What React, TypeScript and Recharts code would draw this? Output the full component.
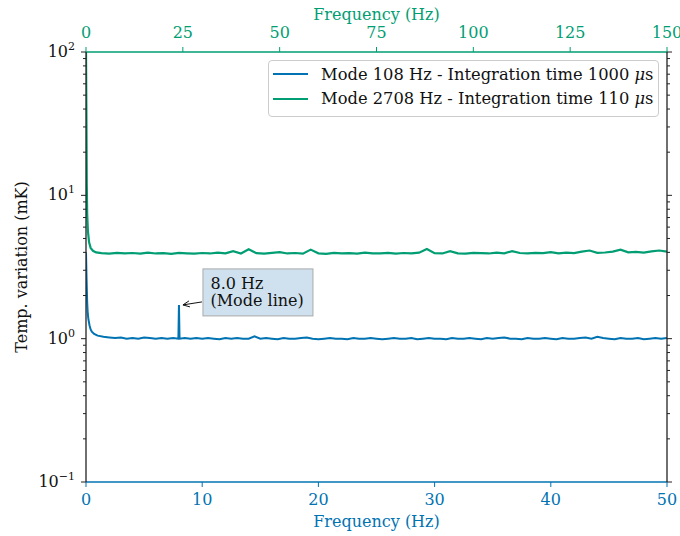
import React from 'react';
import { LineChart, Line, XAxis, YAxis, Legend, ReferenceDot } from 'recharts';

const BLUE = '#0173B2';
const GREEN = '#029E73';
const FONT = '"DejaVu Serif", serif';
const FS = 16;

// Mode 108 Hz, bottom axis (0-50 Hz)
const BLUE_F = [
  0, 0.05, 0.1, 0.15, 0.2, 0.3, 0.4, 0.5, 0.7, 1, 1.5, 2, 2.5, 3, 3.5, 4, 4.5, 5, 5.5, 6, 6.5, 7, 7.5, 7.95, 8, 8.05, 8.5, 9, 9.5,
  10, 10.5, 11, 11.5, 12, 12.5, 13, 13.5, 14, 14.5, 15, 15.5, 16, 16.5, 17, 17.5, 18, 18.5, 19, 19.5,
  20, 20.5, 21, 21.5, 22, 22.5, 23, 23.5, 24, 24.5, 25, 25.5, 26, 26.5, 27, 27.5, 28, 28.5, 29, 29.5,
  30, 30.5, 31, 31.5, 32, 32.5, 33, 33.5, 34, 34.5, 35, 35.5, 36, 36.5, 37, 37.5, 38, 38.5, 39, 39.5,
  40, 40.5, 41, 41.5, 42, 42.5, 43, 43.5, 44, 44.5, 45, 45.5, 46, 46.5, 47, 47.5, 48, 48.5, 49, 49.5, 50,
];
const BLUE_T = [
  4.0, 2.6, 1.8, 1.5, 1.38, 1.24, 1.16, 1.12, 1.08, 1.05, 1.03, 1.02, 1.01, 1.02, 1.0, 1.01, 1.0, 1.02, 1.01, 1.0, 1.01, 1.0, 1.01, 1.0, 1.72, 1.0, 1.01, 1.0, 1.01,
  1.0, 1.01, 1.0, 0.99, 1.01, 1.0, 1.01, 1.0, 1.0, 1.04, 1.0, 1.01, 1.0, 0.99, 1.01, 1.0, 1.0, 1.01, 1.02, 1.0,
  0.99, 1.0, 1.01, 1.0, 1.0, 0.99, 1.01, 1.0, 1.0, 1.01, 1.0, 0.99, 1.0, 1.01, 1.0, 1.0, 1.01, 0.99, 1.0, 1.01,
  1.0, 1.0, 0.99, 1.01, 1.0, 1.0, 1.01, 1.0, 0.99, 1.01, 1.0, 1.01, 1.02, 1.0, 1.0, 0.99, 1.01, 1.0, 1.0, 1.01,
  1.0, 0.99, 1.01, 1.0, 1.0, 1.01, 1.02, 1.0, 1.03, 1.01, 1.0, 0.99, 1.01, 1.0, 1.0, 1.01, 0.99, 1.0, 1.01, 1.0, 1.01,
];

// Mode 2708 Hz, top axis (0-150 Hz)
const GREEN_F = [
  0, 0.1, 0.2, 0.3, 0.5, 0.8, 1.2, 1.8, 2.6,
  4, 6, 8, 10, 12, 14, 16, 18, 20, 22, 24, 26, 28, 30, 32, 34, 36, 38, 40, 42, 44, 46, 48, 50,
  52, 54, 56, 58, 60, 62, 64, 66, 68, 70, 72, 74, 76, 78, 80, 82, 84, 86, 88, 90, 92, 94, 96, 98, 100,
  102, 104, 106, 108, 110, 112, 114, 116, 118, 120, 122, 124, 126, 128, 130, 132, 134, 136, 138, 140, 142, 144, 146, 148, 150,
];
const GREEN_T = [
  100, 40, 12, 7.5, 5.6, 4.7, 4.3, 4.1, 4.0,
  3.95, 3.92, 3.97, 3.93, 3.96, 3.92, 3.98, 3.93, 3.95, 3.91, 3.97, 3.94, 3.92, 3.96, 3.93, 3.98, 3.94, 4.08, 3.93, 4.2, 3.95, 3.92, 3.97, 4.02,
  3.93, 3.96, 3.92, 4.18, 3.94, 3.91, 3.97, 3.93, 3.95, 3.92, 3.98, 3.94, 3.93, 3.97, 3.92, 3.96, 3.94, 3.98, 4.22, 3.95, 3.93, 4.08, 3.94, 3.92, 3.97,
  3.95, 3.93, 3.98, 3.94, 4.08, 3.96, 3.93, 3.97, 3.95, 4.02, 3.94, 3.98, 3.95, 4.05, 4.12, 3.97, 3.99, 4.05, 4.18, 4.0, 4.03, 3.98, 4.06, 4.12, 4.05,
];

const BOTTOM_TICKS = [0, 10, 20, 30, 40, 50];
const TOP_TICKS = [0, 25, 50, 75, 100, 125, 150];
const MAJOR_Y = [0.1, 1, 10, 100];
const MINOR_Y = [0.2, 0.3, 0.4, 0.5, 0.6, 0.7, 0.8, 0.9, 2, 3, 4, 5, 6, 7, 8, 9, 20, 30, 40, 50, 60, 70, 80, 90];

const LEGEND = [
  { label: 'Mode 108 Hz - Integration time 1000 ', color: BLUE },
  { label: 'Mode 2708 Hz - Integration time 110 ', color: GREEN },
];

const blueData = BLUE_F.map((f, i) => ({ f, t: BLUE_T[i] }));
const greenData = GREEN_F.map((f, i) => ({ f, t: GREEN_T[i] }));

const expLabel = (v: number) => {
  const e = Math.round(Math.log10(v));
  return e < 0 ? '\u2212' + Math.abs(e) : String(e);
};

const LeftTick = (props: any) => {
  const { x, y, payload } = props;
  const major = MAJOR_Y.includes(payload.value);
  const len = major ? 5 : 3;
  return (
    <g>
      <line x1={x - len} x2={x} y1={y} y2={y} stroke="#222" strokeWidth={1} />
      {major && (
        <text x={x - len - 6} y={y + 5} textAnchor="end" fontFamily={FONT} fontSize={FS} fill="#111">
          10<tspan dy={-7} fontSize={11}>{expLabel(payload.value)}</tspan>
        </text>
      )}
    </g>
  );
};

const RightTick = (props: any) => {
  const { x, y, payload } = props;
  const len = MAJOR_Y.includes(payload.value) ? 5 : 3;
  return <line x1={x} x2={x + len} y1={y} y2={y} stroke="#222" strokeWidth={1} />;
};

const TopTick = (props: any) => {
  const { x, y, payload } = props;
  return (
    <g>
      <line x1={x} x2={x} y1={y - 5} y2={y} stroke={GREEN} strokeWidth={1} />
      <text x={x} y={y - 14.5} textAnchor="middle" fontFamily={FONT} fontSize={FS} fill={GREEN}>{payload.value}</text>
    </g>
  );
};

const BottomTick = (props: any) => {
  const { x, y, payload } = props;
  return (
    <g>
      <line x1={x} x2={x} y1={y} y2={y + 5} stroke={BLUE} strokeWidth={1} />
      <text x={x} y={y + 23} textAnchor="middle" fontFamily={FONT} fontSize={FS} fill={BLUE}>{payload.value}</text>
    </g>
  );
};

const AxisTitle = (props: any) => {
  const { viewBox, value, fill, dy, rotate } = props;
  if (!viewBox) return null;
  const { x, y, width, height } = viewBox;
  if (rotate) {
    const cx = x - 9;
    const cy = y + height / 2;
    return (
      <text x={cx} y={cy} transform={`rotate(-90 ${cx} ${cy})`} textAnchor="middle" fontFamily={FONT} fontSize={FS} fill={fill}>
        {value}
      </text>
    );
  }
  return (
    <text x={x + width / 2} y={y + dy} textAnchor="middle" fontFamily={FONT} fontSize={FS} fill={fill}>
      {value}
    </text>
  );
};

const LegendBox = () => (
  <div
    style={{
      border: '1px solid #cccccc',
      borderRadius: 4,
      background: 'rgba(255,255,255,0.85)',
      padding: '1px 0 5px 4px',
      fontFamily: FONT,
      fontSize: 16.3,
      width: 391,
      boxSizing: 'border-box',
      color: '#111',
    }}
  >
    {LEGEND.map((it) => (
      <div key={it.label} style={{ display: 'flex', alignItems: 'center', height: 24.5, whiteSpace: 'nowrap' }}>
        <span style={{ display: 'inline-block', width: 35, height: 2.2, background: it.color, marginRight: 13 }} />
        <span>
          {it.label}
          <i>μ</i>s
        </span>
      </div>
    ))}
  </div>
);

const ModeNote = (props: any) => {
  const { cx, cy } = props;
  if (cx == null || cy == null) return null;
  return (
    <g>
      <rect x={cx + 24} y={cy - 36} width={110} height={47} fill="#cfe1ee" stroke="#aaaaaa" strokeWidth={1} />
      <text x={cx + 31.5} y={cy - 16} fontFamily={FONT} fontSize={FS} fill="#111">8.0 Hz</text>
      <text x={cx + 31.5} y={cy + 1.5} fontFamily={FONT} fontSize={FS} fill="#111">(Mode line)</text>
      <line x1={cx + 23} y1={cy - 3} x2={cx + 4} y2={cy} stroke="#111" strokeWidth={1} />
      <polyline
        points={`${cx + 10},${cy - 4} ${cx + 4},${cy} ${cx + 11},${cy + 2}`}
        fill="none"
        stroke="#111"
        strokeWidth={1}
      />
    </g>
  );
};

export default function App() {
  return (
    <div style={{ position: 'absolute', left: 0, top: 0, width: 680, height: 536, background: '#fff', fontFamily: FONT }}>
      <LineChart width={680} height={536} margin={{ top: 0, right: 0, bottom: 0, left: 36 }}>
        <XAxis
          xAxisId="top"
          orientation="top"
          type="number"
          dataKey="f"
          domain={[0, 150]}
          ticks={TOP_TICKS}
          interval={0}
          allowDataOverflow
          height={52}
          tickLine={false}
          tickSize={0}
          tickMargin={0}
          axisLine={{ stroke: GREEN, strokeWidth: 1.3 }}
          tick={<TopTick />}
          label={<AxisTitle value="Frequency (Hz)" fill={GREEN} dy={19.5} />}
        />
        <XAxis
          xAxisId="bottom"
          orientation="bottom"
          type="number"
          dataKey="f"
          domain={[0, 50]}
          ticks={BOTTOM_TICKS}
          interval={0}
          allowDataOverflow
          height={54}
          tickLine={false}
          tickSize={0}
          tickMargin={0}
          axisLine={{ stroke: BLUE, strokeWidth: 1.3 }}
          tick={<BottomTick />}
          label={<AxisTitle value="Frequency (Hz)" fill={BLUE} dy={45} />}
        />
        <YAxis
          yAxisId="left"
          orientation="left"
          scale="log"
          type="number"
          domain={[0.1, 100]}
          ticks={[...MAJOR_Y, ...MINOR_Y]}
          interval={0}
          allowDataOverflow
          width={50}
          tickLine={false}
          tickSize={0}
          tickMargin={0}
          axisLine={{ stroke: '#222', strokeWidth: 1.3 }}
          tick={<LeftTick />}
          label={<AxisTitle value="Temp. variation (mK)" fill="#111" rotate />}
        />
        <YAxis
          yAxisId="right"
          orientation="right"
          scale="log"
          type="number"
          domain={[0.1, 100]}
          ticks={[...MAJOR_Y, ...MINOR_Y]}
          interval={0}
          allowDataOverflow
          width={13}
          tickLine={false}
          tickSize={0}
          tickMargin={0}
          axisLine={{ stroke: '#222', strokeWidth: 1.3 }}
          tick={<RightTick />}
        />
        <Line
          data={blueData}
          dataKey="t"
          xAxisId="bottom"
          yAxisId="left"
          stroke={BLUE}
          strokeWidth={2}
          dot={false}
          type="linear"
          isAnimationActive={false}
        />
        <Line
          data={greenData}
          dataKey="t"
          xAxisId="top"
          yAxisId="left"
          stroke={GREEN}
          strokeWidth={2.2}
          dot={false}
          type="linear"
          isAnimationActive={false}
        />
        <ReferenceDot x={8} y={1.72} xAxisId="bottom" yAxisId="left" r={0} shape={<ModeNote />} />
        <Legend
          layout="vertical"
          align="center"
          verticalAlign="middle"
          content={<LegendBox />}
          wrapperStyle={{ position: 'absolute', top: 60, left: 268, width: 391 }}
        />
      </LineChart>
    </div>
  );
}
